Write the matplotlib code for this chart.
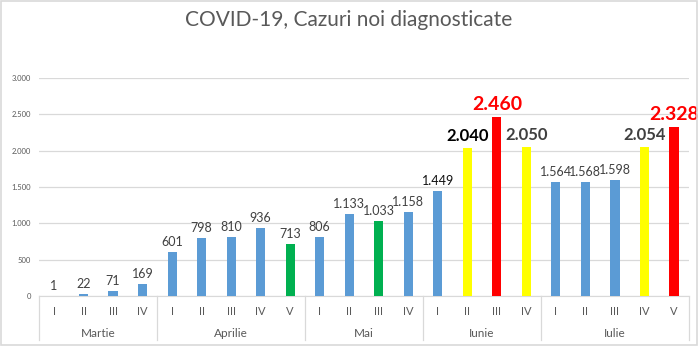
import matplotlib.pyplot as plt
import matplotlib.transforms as mtransforms
from matplotlib.patches import Rectangle

# date pe saptamani, grupate pe luni
luni = ['Martie', 'Aprilie', 'Mai', 'Iunie', 'Iulie']
saptamani = [
    ['I', 'II', 'III', 'IV'],
    ['I', 'II', 'III', 'IV', 'V'],
    ['I', 'II', 'III', 'IV'],
    ['I', 'II', 'III', 'IV'],
    ['I', 'II', 'III', 'IV', 'V'],
]
cazuri = [
    [1, 22, 71, 169],
    [601, 798, 810, 936, 713],
    [806, 1133, 1033, 1158],
    [1449, 2040, 2460, 2050],
    [1564, 1568, 1598, 2054, 2328],
]
# b = albastru, g = verde, y = galben, r = rosu
culori_cod = [
    'bbbb',
    'bbbbg',
    'bbgb',
    'byry',
    'bbbyr',
]
y_ticks = [0, 500, 1000, 1500, 2000, 2500, 3000]

paleta = {'b': '#5B9BD5', 'g': '#00B050', 'y': '#FFFF00', 'r': '#FF0000'}

plt.rcParams['font.family'] = ['Lato', 'DejaVu Sans']


def fmt(v):
    return f'{v:,}'.replace(',', '.')


valori = [v for grup in cazuri for v in grup]
etichete = [s for grup in saptamani for s in grup]
culori = [paleta[c] for cod in culori_cod for c in cod]
x = list(range(len(valori)))

fig = plt.figure(figsize=(6.98, 3.46), dpi=100)
ax = fig.add_axes([39.25 / 698, 50 / 346, 649.5 / 698, 218 / 346])

ax.bar(x, valori, width=0.31, color=culori, zorder=3)
ax.set_xlim(-0.5, len(valori) - 0.5)
ax.set_ylim(0, 3000)
ax.set_yticks(y_ticks)
ax.set_yticklabels([fmt(v) for v in y_ticks], fontsize=5.5, color='#595959')
ax.tick_params(axis='y', length=0, pad=6)
ax.set_xticks([])
ax.grid(axis='y', color='#D9D9D9', linewidth=0.9, zorder=0)
for s in ['left', 'right', 'top']:
    ax.spines[s].set_visible(False)
ax.spines['bottom'].set_color('#D9D9D9')

# etichete cu valori deasupra barelor
for xi, v in zip(x, valori):
    style = dict(fontsize=9, color='#404040')
    if v == 1449:
        style = dict(fontsize=9, color='#111111')
    if v == 2040:
        style = dict(fontsize=12, color='black', fontweight='bold')
    if v in (2050, 2054):
        style = dict(fontsize=12, color='#404040', fontweight='bold')
    if v in (2460, 2328):
        style = dict(fontsize=14, color='#FF0000', fontweight='bold')
    ax.annotate(fmt(v), (xi, v), xytext=(0, 3), textcoords='offset points',
                ha='center', va='bottom', **style)

# axa categoriilor pe doua niveluri
tr = mtransforms.blended_transform_factory(ax.transData, ax.transAxes)
for xi, et in zip(x, etichete):
    ax.text(xi, -0.069, et, transform=tr, ha='center', va='center',
            fontsize=8, color='#595959')

start = -0.5
for luna, grup in zip(luni, saptamani):
    end = start + len(grup)
    ax.text((start + end) / 2, -0.17, luna, transform=tr, ha='center',
            va='center', fontsize=8.5, color='#595959')
    start = end

limite = [-0.5]
for grup in saptamani:
    limite.append(limite[-1] + len(grup))
for b in limite:
    ax.plot([b, b], [0, -0.2], transform=tr, color='#D9D9D9',
            linewidth=0.9, clip_on=False)

fig.text(0.5, 1 - 20 / 346, 'COVID-19, Cazuri noi diagnosticate',
         ha='center', va='center', fontsize=15, color='#595959')

# chenarul graficului
fig.patches.append(Rectangle((0.001, 0.002), 0.997, 0.995, transform=fig.transFigure,
                             fill=False, edgecolor='#D9D9D9', linewidth=1.2))

fig.savefig('out.png', dpi=100)
